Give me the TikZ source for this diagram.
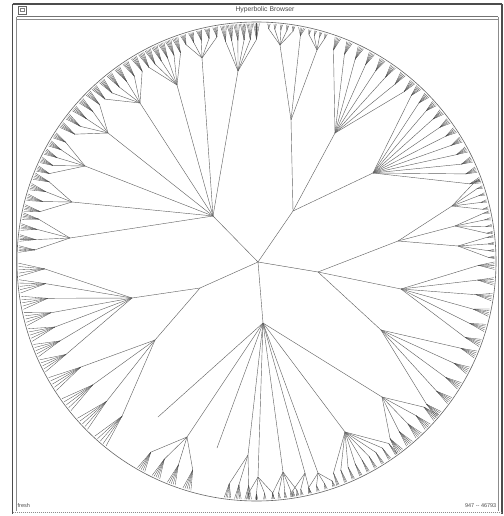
\documentclass[tikz,border=0pt]{standalone}
\usepackage{fontspec}
\newfontfamily\uifont{Liberation Sans}
\usetikzlibrary{calc}
\tikzset{
  edge/.style={line width=0.42pt, draw=black!62},
  tuftline/.style={line width=0.32pt, draw=black!70},
  frameline/.style={line width=1.4pt, draw=black!70},
  thinframe/.style={line width=0.7pt, draw=black!45},
  uitext/.style={inner sep=0pt, text=black!70, font=\uifont\fontsize{5.5}{6}\selectfont}
}
% fan of leaves from a hub: hub, phi1, phi2, count, end radius, tuft spread, tuft half count
\newcommand\hfan[7]{%
  \foreach \i in {1,...,#4} {
    \pgfmathsetmacro\ph{#2+(#3-#2)*(\i-1)/max(#4-1,1)}
    \coordinate (tip) at ($(O)+(\ph:#5)$);
    \draw[edge] (#1) -- (tip);
    \foreach \j in {-#7,...,#7} {\draw[tuftline] (tip) -- ($(O)+(\ph+\j*#6:238)$);}
  }}
\begin{document}
\begin{tikzpicture}[x=1pt,y=-1pt]
\useasboundingbox (0,0) rectangle (503,516);
\fill[white] (0,0) rectangle (503,516);
% window frame
\draw[frameline] (12.5,4) -- (502,4);
\draw[line width=1pt, draw=black!55] (16.5,16.5) -- (498,16.5);
\draw[thinframe] (16.5,19) -- (498,19);
\draw[frameline] (12.5,4) -- (12.5,514);
\draw[thinframe] (16.5,17) -- (16.5,511);
\draw[thinframe] (498,17) -- (498,511);
\draw[frameline] (502,4) -- (502,514);
\draw[line width=1pt, draw=black!45, dash pattern=on 1pt off 1pt] (12.5,512.5) -- (502,512.5);
\node[draw=black!60, line width=0.6pt, minimum width=8pt, minimum height=8pt, inner sep=0pt] (icon) at (22,10) {};
\node[draw=black!50, line width=0.4pt, minimum width=4pt, minimum height=3pt, inner sep=0pt] (iconin) at (22,10) {};
\node[uitext, font=\uifont\fontsize{6.8}{7}\selectfont] (title) at (265,9.8) {Hyperbolic Browser};
\node[uitext, anchor=west] (status) at (17.5,505.5) {fresh};
\node[uitext, anchor=east] (count) at (496.5,505.5) {947 -- 46793};
% disk
\coordinate (O) at (256.5,261.5);
\draw[line width=0.6pt, draw=black!60] (O) circle (239.5);
% hubs
\coordinate (R) at (258,262);
\coordinate (A) at (213,216);
\coordinate (B) at (293,211);
\coordinate (C) at (318,272);
\coordinate (D) at (263,323);
\coordinate (E) at (200,288);
\coordinate (A1) at (238,71);
\coordinate (A2) at (202,58);
\coordinate (A3) at (177,85);
\coordinate (A4) at (140,103);
\coordinate (A5) at (108,133);
\coordinate (A6) at (85,166);
\coordinate (A7) at (72,202);
\coordinate (A8) at (70,238);
\coordinate (B1) at (291,120);
\coordinate (B1a) at (280,45);
\coordinate (B1c) at (317,50);
\coordinate (B2) at (335,133);
\coordinate (B3) at (373,173);
\coordinate (C1) at (398,241);
\coordinate (C1a) at (452,206);
\coordinate (C1b) at (455,226);
\coordinate (C1c) at (458,246);
\coordinate (C2) at (401,289);
\coordinate (C3) at (381,330);
\coordinate (D1) at (382,397);
\coordinate (D2) at (345,432);
\coordinate (D3) at (318,473);
\coordinate (D4) at (305,473);
\coordinate (D5) at (283,472);
\coordinate (D6) at (258,477);
\coordinate (D7) at (187,437);
\coordinate (D8) at (248,455);
\coordinate (Dl1) at (158,417);
\coordinate (Dl2) at (217,448);
\coordinate (E1) at (132,298);
\coordinate (E2) at (155,340);
% main edges
\foreach \h in {A,B,C,D,E} {\draw[edge] (R) -- (\h);}
\foreach \h in {A1,A2,A3,A4,A5,A6,A7,A8} {\draw[edge] (A) -- (\h);}
\draw[edge] (B) -- (B1);
\draw[edge] (B1) -- (B1a);
\draw[edge] (B1) -- (B1c);
\draw[edge] (B) -- (B2);
\draw[edge] (B) -- (B3);
\draw[edge] (C) -- (C1);
\foreach \h in {C1a,C1b,C1c} {\draw[edge] (C1) -- (\h);}
\draw[edge] (C) -- (C2);
\draw[edge] (C) -- (C3);
\foreach \h in {D1,D2,D3,D4,D5,D6,D7,D8,Dl1,Dl2} {\draw[edge] (D) -- (\h);}
\draw[edge] (E) -- (E1);
\draw[edge] (E) -- (E2);
% leaf fans
\hfan{A1}{-98}{-90}{6}{222}{0.35}{2}
\hfan{A2}{-108}{-100}{5}{228}{0.3}{2}
\hfan{A3}{-119}{-110}{6}{222}{0.35}{2}
\hfan{A4}{-133}{-121}{6}{222}{0.35}{2}
\hfan{A5}{-145}{-135}{5}{222}{0.35}{2}
\hfan{A6}{-157}{-148}{5}{225}{0.35}{2}
\hfan{A7}{-167}{-159}{4}{222}{0.4}{2}
\hfan{A8}{-177}{-169}{4}{222}{0.4}{2}
\hfan{B1a}{-87}{-81}{5}{233}{0.3}{1}
\hfan{B1}{-79}{-79}{1}{230}{0.4}{2}
\hfan{B1c}{-77}{-73}{4}{233}{0.3}{1}
\hfan{B2}{-70}{-49}{8}{225}{0.35}{2}
\hfan{B3}{-47}{-20}{11}{227}{0.35}{2}
\hfan{C1a}{-20}{-13}{5}{232}{0.3}{1}
\hfan{C1b}{-12}{-7}{4}{232}{0.3}{1}
\hfan{C1c}{-6}{-1}{4}{232}{0.3}{1}
\hfan{C2}{1}{20}{6}{222}{0.45}{2}
\hfan{C3}{23}{40}{5}{222}{0.45}{2}
\hfan{D1}{41}{53}{5}{222}{0.45}{2}
\hfan{D2}{54}{70}{9}{225}{0.3}{1}
\hfan{D3}{71}{77}{4}{232}{0.3}{1}
\hfan{D4}{77}{81}{3}{232}{0.3}{1}
\hfan{D5}{80}{86}{5}{232}{0.3}{1}
\hfan{D6}{86}{92}{4}{232}{0.3}{1}
\hfan{D7}{107}{119}{4}{218}{0.5}{2}
\hfan{D8}{92}{97}{3}{224}{0.4}{2}
\hfan{E1}{154}{178}{7}{212}{0.8}{2}
\hfan{E2}{131}{149}{4}{205}{0.9}{2}
\end{tikzpicture}
\end{document}
